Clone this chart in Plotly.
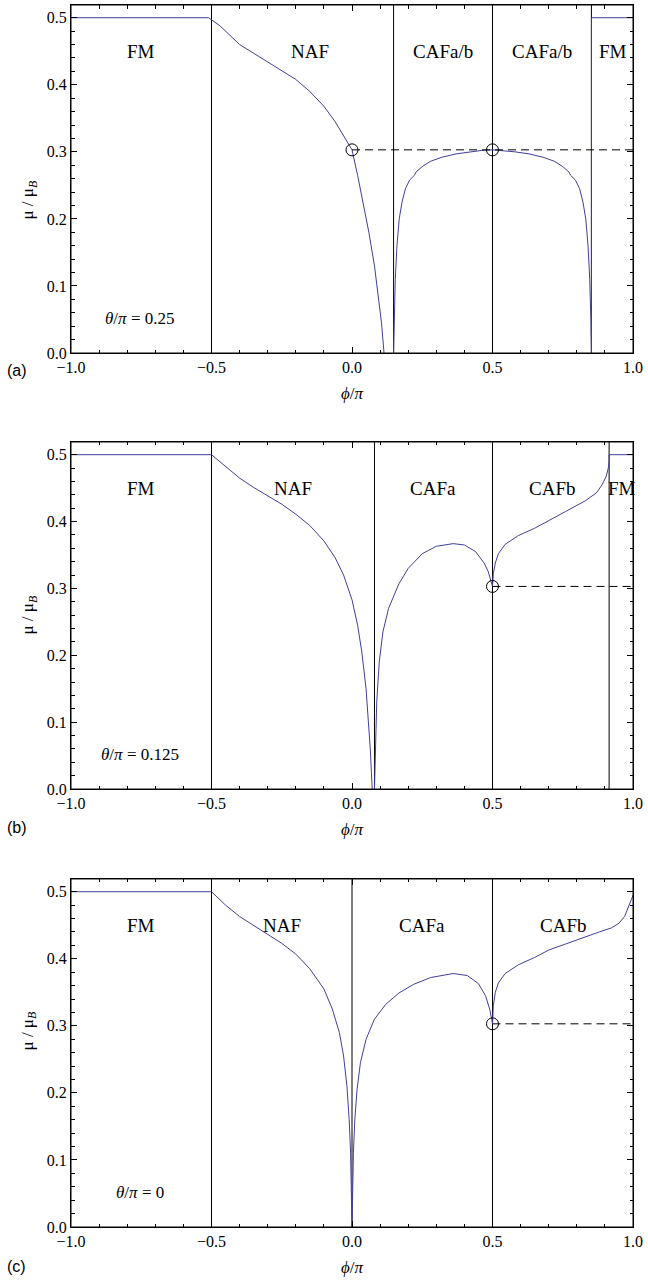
import plotly.graph_objects as go

# ---------------- data ----------------
# panel (a) theta/pi = 0.25
a_fm1_x = [-1.0, -0.51]
a_fm1_y = [0.5, 0.5]
a_naf_x = [-0.51, -0.47, -0.44, -0.40, -0.35, -0.30, -0.25, -0.20, -0.15, -0.10, -0.06, -0.03, 0.0,
           0.02, 0.04, 0.06, 0.08, 0.095, 0.105, 0.111, 0.114]
a_naf_y = [0.5, 0.488, 0.476, 0.46, 0.447, 0.434, 0.422, 0.408, 0.39, 0.368, 0.345, 0.325, 0.303,
           0.265, 0.222, 0.18, 0.13, 0.082, 0.045, 0.015, 0.0]
a_caf_x = [0.148, 0.150, 0.154, 0.160, 0.168, 0.178, 0.19, 0.205, 0.222, 0.228, 0.25, 0.28, 0.32, 0.37,
           0.42, 0.46, 0.5, 0.54, 0.58, 0.63, 0.68, 0.72, 0.75, 0.772, 0.778, 0.795, 0.81, 0.822,
           0.832, 0.840, 0.846, 0.850, 0.852]
a_caf_y = [0.0, 0.05, 0.11, 0.16, 0.2, 0.225, 0.245, 0.258, 0.265, 0.27, 0.278, 0.286, 0.292, 0.297,
           0.3, 0.302, 0.303, 0.302, 0.3, 0.297, 0.292, 0.286, 0.278, 0.27, 0.265, 0.258, 0.245, 0.225,
           0.2, 0.16, 0.11, 0.05, 0.0]
a_fm2_x = [0.852, 0.852, 1.0]
a_fm2_y = [0.0, 0.5, 0.5]
a_bounds = [-0.5, 0.148, 0.5, 0.852]
a_circ_x = [0.0, 0.5]
a_circ_y = [0.303, 0.303]
a_dash_x = [0.0, 1.0]
a_labels = ["FM", "NAF", "CAFa/b", "CAFa/b", "FM"]
a_label_x = [-0.75, -0.15, 0.325, 0.675, 0.93]
a_theta = "0.25"

# panel (b) theta/pi = 0.125
b_fm1_x = [-1.0, -0.5]
b_fm1_y = [0.5, 0.5]
b_naf_x = [-0.5, -0.45, -0.4, -0.35, -0.3, -0.25, -0.2, -0.15, -0.1, -0.06, -0.03, 0.0, 0.02, 0.035,
           0.05, 0.058, 0.065, 0.069, 0.072]
b_naf_y = [0.5, 0.482, 0.465, 0.451, 0.438, 0.426, 0.411, 0.394, 0.371, 0.346, 0.32, 0.283, 0.245,
           0.205, 0.15, 0.105, 0.06, 0.025, 0.0]
b_cafa_x = [0.08, 0.083, 0.088, 0.097, 0.11, 0.13, 0.167, 0.2, 0.25, 0.3, 0.36, 0.4, 0.44, 0.47,
            0.485, 0.495, 0.5]
b_cafa_y = [0.0, 0.06, 0.13, 0.19, 0.235, 0.27, 0.307, 0.33, 0.352, 0.363, 0.367, 0.365, 0.355,
            0.338, 0.325, 0.31, 0.303]
b_cafb_x = [0.5, 0.503, 0.51, 0.521, 0.545, 0.592, 0.65, 0.7, 0.76, 0.83, 0.87, 0.89, 0.905, 0.912,
            0.915, 0.915, 1.0]
b_cafb_y = [0.303, 0.322, 0.338, 0.352, 0.366, 0.379, 0.39, 0.401, 0.415, 0.431, 0.443, 0.455, 0.468,
            0.48, 0.49, 0.5, 0.5]
b_bounds = [-0.5, 0.08, 0.5, 0.915]
b_circ_x = [0.5]
b_circ_y = [0.303]
b_dash_x = [0.5, 1.0]
b_labels = ["FM", "NAF", "CAFa", "CAFb", "FM"]
b_label_x = [-0.75, -0.21, 0.29, 0.71, 0.96]
b_theta = "0.125"

# panel (c) theta/pi = 0
c_fm1_x = [-1.0, -0.5]
c_fm1_y = [0.5, 0.5]
c_naf_x = [-0.5, -0.45, -0.4, -0.35, -0.3, -0.25, -0.2, -0.15, -0.1, -0.07, -0.045, -0.03, -0.018,
           -0.01, -0.005, -0.002, 0.0]
c_naf_y = [0.5, 0.48, 0.463, 0.45, 0.437, 0.423, 0.407, 0.385, 0.355, 0.325, 0.29, 0.255, 0.21,
           0.16, 0.11, 0.06, 0.0]
c_cafa_x = [0.0, 0.002, 0.005, 0.01, 0.018, 0.03, 0.05, 0.08, 0.12, 0.167, 0.22, 0.28, 0.36, 0.41,
            0.45, 0.475, 0.49, 0.497, 0.5]
c_cafa_y = [0.0, 0.06, 0.11, 0.16, 0.205, 0.245, 0.28, 0.31, 0.332, 0.349, 0.362, 0.372, 0.378,
            0.375, 0.363, 0.345, 0.325, 0.31, 0.303]
c_cafb_x = [0.5, 0.503, 0.51, 0.521, 0.545, 0.592, 0.65, 0.7, 0.76, 0.83, 0.88, 0.923, 0.95, 0.97,
            0.985, 0.994, 1.0]
c_cafb_y = [0.303, 0.33, 0.35, 0.364, 0.378, 0.391, 0.402, 0.413, 0.422, 0.433, 0.44, 0.446, 0.453,
            0.463, 0.477, 0.488, 0.495]
c_bounds = [-0.5, 0.0, 0.5]
c_circ_x = [0.5]
c_circ_y = [0.303]
c_dash_x = [0.5, 1.0]
c_labels = ["FM", "NAF", "CAFa", "CAFb"]
c_label_x = [-0.75, -0.25, 0.25, 0.75]
c_theta = "0"

dash_level = 0.303
label_y = 0.45
theta_pos = (-0.755, 0.052)

x_ticks = [-1.0, -0.5, 0.0, 0.5, 1.0]
y_ticks = [0.0, 0.1, 0.2, 0.3, 0.4, 0.5]

panels = [
    dict(curves=[(a_fm1_x, a_fm1_y), (a_naf_x, a_naf_y), (a_caf_x, a_caf_y), (a_fm2_x, a_fm2_y)],
         bounds=a_bounds, cx=a_circ_x, cy=a_circ_y, dx=a_dash_x, labels=a_labels, lx=a_label_x,
         theta=a_theta, tag="(a)"),
    dict(curves=[(b_fm1_x, b_fm1_y), (b_naf_x, b_naf_y), (b_cafa_x, b_cafa_y), (b_cafb_x, b_cafb_y)],
         bounds=b_bounds, cx=b_circ_x, cy=b_circ_y, dx=b_dash_x, labels=b_labels, lx=b_label_x,
         theta=b_theta, tag="(b)"),
    dict(curves=[(c_fm1_x, c_fm1_y), (c_naf_x, c_naf_y), (c_cafa_x, c_cafa_y), (c_cafb_x, c_cafb_y)],
         bounds=c_bounds, cx=c_circ_x, cy=c_circ_y, dx=c_dash_x, labels=c_labels, lx=c_label_x,
         theta=c_theta, tag="(c)"),
]

# ---------------- layout ----------------
W, H = 648, 1287
ML, MR, MT, MB = 71, 13, 5, 60
domains = [(0.7152, 1.0), (0.3584, 0.6424), (0.0, 0.2848)]
tag_y = [0.7013, 0.3273, -0.0327]
X_RANGE = [-1, 1]
Y_RANGE = [0, 0.519]

SERIF = "Liberation Serif"
SANS = "Liberation Sans"
CURVE = "#40409c"

fig = go.Figure()
annotations = []
shapes = []

tick_common = dict(ticks="inside", ticklen=6, tickwidth=1, tickcolor="black",
                   showgrid=False, zeroline=False)

for i, p in enumerate(panels):
    n = i + 1
    sfx = "" if n == 1 else str(n)
    xa, ya = "x" + sfx, "y" + sfx
    for cx_, cy_ in p["curves"]:
        fig.add_trace(go.Scatter(x=cx_, y=cy_, mode="lines", xaxis=xa, yaxis=ya,
                                 line=dict(color=CURVE, width=1), showlegend=False,
                                 hoverinfo="skip"))
    fig.add_trace(go.Scatter(x=p["dx"], y=[dash_level] * len(p["dx"]), mode="lines",
                             xaxis=xa, yaxis=ya, line=dict(color="black", width=1, dash="8px,5px"),
                             showlegend=False, hoverinfo="skip"))
    fig.add_trace(go.Scatter(x=p["cx"], y=p["cy"], mode="markers", xaxis=xa, yaxis=ya,
                             marker=dict(symbol="circle-open", size=12, color="black",
                                         line=dict(width=1, color="black")),
                             showlegend=False, hoverinfo="skip"))
    for b in p["bounds"]:
        shapes.append(dict(type="line", xref=xa, yref=ya + " domain", x0=b, x1=b, y0=0, y1=1,
                           line=dict(color="black", width=1), layer="below"))
    # plot frame
    shapes.append(dict(type="rect", xref=xa + " domain", yref=ya + " domain", x0=0, x1=1,
                       y0=0, y1=1, line=dict(color="black", width=1), layer="above"))
    for t, lx in zip(p["labels"], p["lx"]):
        annotations.append(dict(x=lx, y=label_y, xref=xa, yref=ya, text=t, showarrow=False,
                                font=dict(family=SERIF, size=19, color="black")))
    annotations.append(dict(x=theta_pos[0], y=theta_pos[1], xref=xa, yref=ya,
                            text="<i>θ</i>/<i>π</i> = " + p["theta"], showarrow=False,
                            font=dict(family=SERIF, size=17, color="black")))
    d0, d1 = domains[i]
    annotations.append(dict(x=0.5, y=d0, xref="paper", yref="paper", yshift=-40,
                            text="<i>ϕ</i>/<i>π</i>", showarrow=False, yanchor="middle",
                            font=dict(family=SERIF, size=17, color="black")))
    annotations.append(dict(x=0, y=(d0 + d1) / 2, xref="paper", yref="paper", xshift=-55,
                            text="μ / μ<sub><i>B</i></sub>", showarrow=False, textangle=-90,
                            font=dict(family=SERIF, size=17, color="black")))
    annotations.append(dict(x=(5 - ML) / (W - ML - MR), y=tag_y[i], xref="paper", yref="paper",
                            text=p["tag"], showarrow=False, xanchor="left", yanchor="middle",
                            font=dict(family=SANS, size=16, color="black")))

    fig.layout["xaxis" + sfx] = dict(domain=[0, 1], anchor=ya, range=X_RANGE,
                                     tickvals=x_ticks, tickformat=".1f",
                                     showline=True, linecolor="black", linewidth=1,
                                     tickfont=dict(family=SERIF, size=16, color="black"),
                                     minor=dict(dtick=0.1, tick0=0, ticks="inside", ticklen=3.5,
                                                tickcolor="black", showgrid=False),
                                     **tick_common)
    fig.layout["yaxis" + sfx] = dict(domain=[d0, d1], anchor=xa, range=Y_RANGE,
                                     tickvals=y_ticks, tickformat=".1f",
                                     showline=True, linecolor="black", linewidth=1,
                                     tickfont=dict(family=SERIF, size=16, color="black"),
                                     minor=dict(dtick=0.02, tick0=0, ticks="inside", ticklen=3.5,
                                                tickcolor="black", showgrid=False),
                                     **tick_common)
    # mirrored frame axes (top / right) carrying major and minor ticks
    tx, ty = "x" + str(n + 3), "y" + str(n + 3)
    fig.add_trace(go.Scatter(x=X_RANGE, y=Y_RANGE, mode="markers", xaxis=tx, yaxis=ty,
                             marker=dict(opacity=0, size=1), showlegend=False,
                             hoverinfo="skip"))
    fig.layout["xaxis" + str(n + 3)] = dict(overlaying=xa, side="top", anchor=ty, range=X_RANGE,
                                            tickvals=x_ticks, showticklabels=False,
                                            showline=True, linecolor="black", linewidth=1,
                                            minor=dict(dtick=0.1, tick0=0, ticks="inside",
                                                       ticklen=3.5, tickcolor="black",
                                                       showgrid=False),
                                            **tick_common)
    fig.layout["yaxis" + str(n + 3)] = dict(overlaying=ya, side="right", anchor=tx,
                                            domain=[d0, d1], range=Y_RANGE,
                                            tickvals=y_ticks, showticklabels=False,
                                            showline=True, linecolor="black", linewidth=1,
                                            minor=dict(dtick=0.02, tick0=0, ticks="inside",
                                                       ticklen=3.5, tickcolor="black",
                                                       showgrid=False),
                                            **tick_common)

fig.update_layout(width=W, height=H, margin=dict(l=ML, r=MR, t=MT, b=MB),
                  plot_bgcolor="white", paper_bgcolor="white",
                  annotations=annotations, shapes=shapes)

fig.write_html("out.html", config={"displayModeBar": False},
               post_script="document.body.style.margin='0';document.body.style.overflow='hidden';")
